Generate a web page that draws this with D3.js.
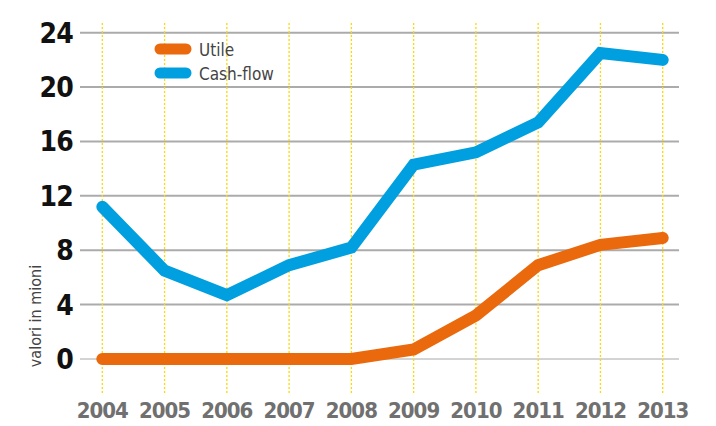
<!DOCTYPE html>
<html>
<head>
<meta charset="utf-8">
<script src="https://cdn.jsdelivr.net/npm/d3@7"></script>
<style>
  body { margin: 0; background: #fff; }
  svg { display: block; }
</style>
</head>
<body>
<script>
var years = [2004, 2005, 2006, 2007, 2008, 2009, 2010, 2011, 2012, 2013];
var utile = [0, 0, 0, 0, 0, 0.7, 3.2, 6.9, 8.4, 8.9];
var cashflow = [11.2, 6.5, 4.7, 6.9, 8.2, 14.3, 15.2, 17.4, 22.5, 22.0];
var yTicks = [0, 4, 8, 12, 16, 20, 24];
var seriesNames = ["Utile", "Cash-flow"];
var seriesColors = ["#ea690c", "#009fdf"];

var width = 716, height = 426;

var svg = d3.select("body").append("svg")
    .attr("width", width).attr("height", height);

var x = d3.scalePoint().domain(years).range([102.3, 662.7]);
var y = d3.scaleLinear().domain([0, 24]).range([359, 32.7]);

var gridLeft = 80, gridRight = 679;

// horizontal grid
svg.append("g").selectAll("line")
    .data(yTicks)
    .enter().append("line")
    .attr("x1", gridLeft).attr("x2", gridRight)
    .attr("y1", function(d) { return y(d); })
    .attr("y2", function(d) { return y(d); })
    .attr("stroke", function(d) { return d == 0 ? "#a8a8a8" : "#ababab"; })
    .attr("stroke-width", function(d) { return d == 0 ? 1 : 2; });

// vertical dotted yellow lines
svg.append("g").selectAll("line")
    .data(years)
    .enter().append("line")
    .attr("x1", function(d) { return x(d); })
    .attr("x2", function(d) { return x(d); })
    .attr("y1", 23).attr("y2", 395)
    .attr("stroke", "#ffd800")
    .attr("stroke-width", 1.3)
    .attr("stroke-dasharray", "2,2");

// y tick labels
svg.append("g").selectAll("text")
    .data(yTicks)
    .enter().append("text")
    .attr("x", 73)
    .attr("y", function(d) { return y(d) + 10; })
    .attr("text-anchor", "end")
    .attr("font-family", "DejaVu Sans Condensed, DejaVu Sans")
    .attr("font-weight", "bold")
    .attr("font-size", 28)
    .attr("letter-spacing", -0.8)
    .attr("fill", "#111")
    .text(function(d) { return d; });

// x labels
svg.append("g").selectAll("text")
    .data(years)
    .enter().append("text")
    .attr("x", function(d) { return x(d); })
    .attr("y", 418)
    .attr("text-anchor", "middle")
    .attr("font-family", "DejaVu Sans Condensed, DejaVu Sans")
    .attr("font-weight", "bold")
    .attr("font-size", 22)
    .attr("letter-spacing", -1)
    .attr("fill", "#707070")
    .text(function(d) { return d; });

// axis title
svg.append("text")
    .attr("transform", "translate(41,316) rotate(-90)")
    .attr("text-anchor", "middle")
    .attr("font-family", "DejaVu Sans Condensed, DejaVu Sans")
    .attr("font-size", 16)
    .attr("fill", "#444")
    .text("valori in mioni");

// lines
var line = d3.line()
    .x(function(d, i) { return x(years[i]); })
    .y(function(d) { return y(d); });

[cashflow, utile].forEach(function(s, k) {
  svg.append("path")
      .datum(s)
      .attr("d", line)
      .attr("fill", "none")
      .attr("stroke", k == 0 ? seriesColors[1] : seriesColors[0])
      .attr("stroke-width", 12)
      .attr("stroke-linecap", "round")
      .attr("stroke-linejoin", "miter");
});

// legend
var legend = svg.append("g");
seriesNames.forEach(function(name, i) {
  var ly = 49 + i * 24;
  legend.append("line")
      .attr("x1", 160).attr("x2", 186)
      .attr("y1", ly).attr("y2", ly)
      .attr("stroke", seriesColors[i])
      .attr("stroke-width", 11)
      .attr("stroke-linecap", "round");
  legend.append("text")
      .attr("x", 199)
      .attr("y", ly + 7)
      .attr("font-family", "DejaVu Sans Condensed, DejaVu Sans")
      .attr("font-size", 17)
      .attr("fill", "#444")
      .text(name);
});
</script>
</body>
</html>
